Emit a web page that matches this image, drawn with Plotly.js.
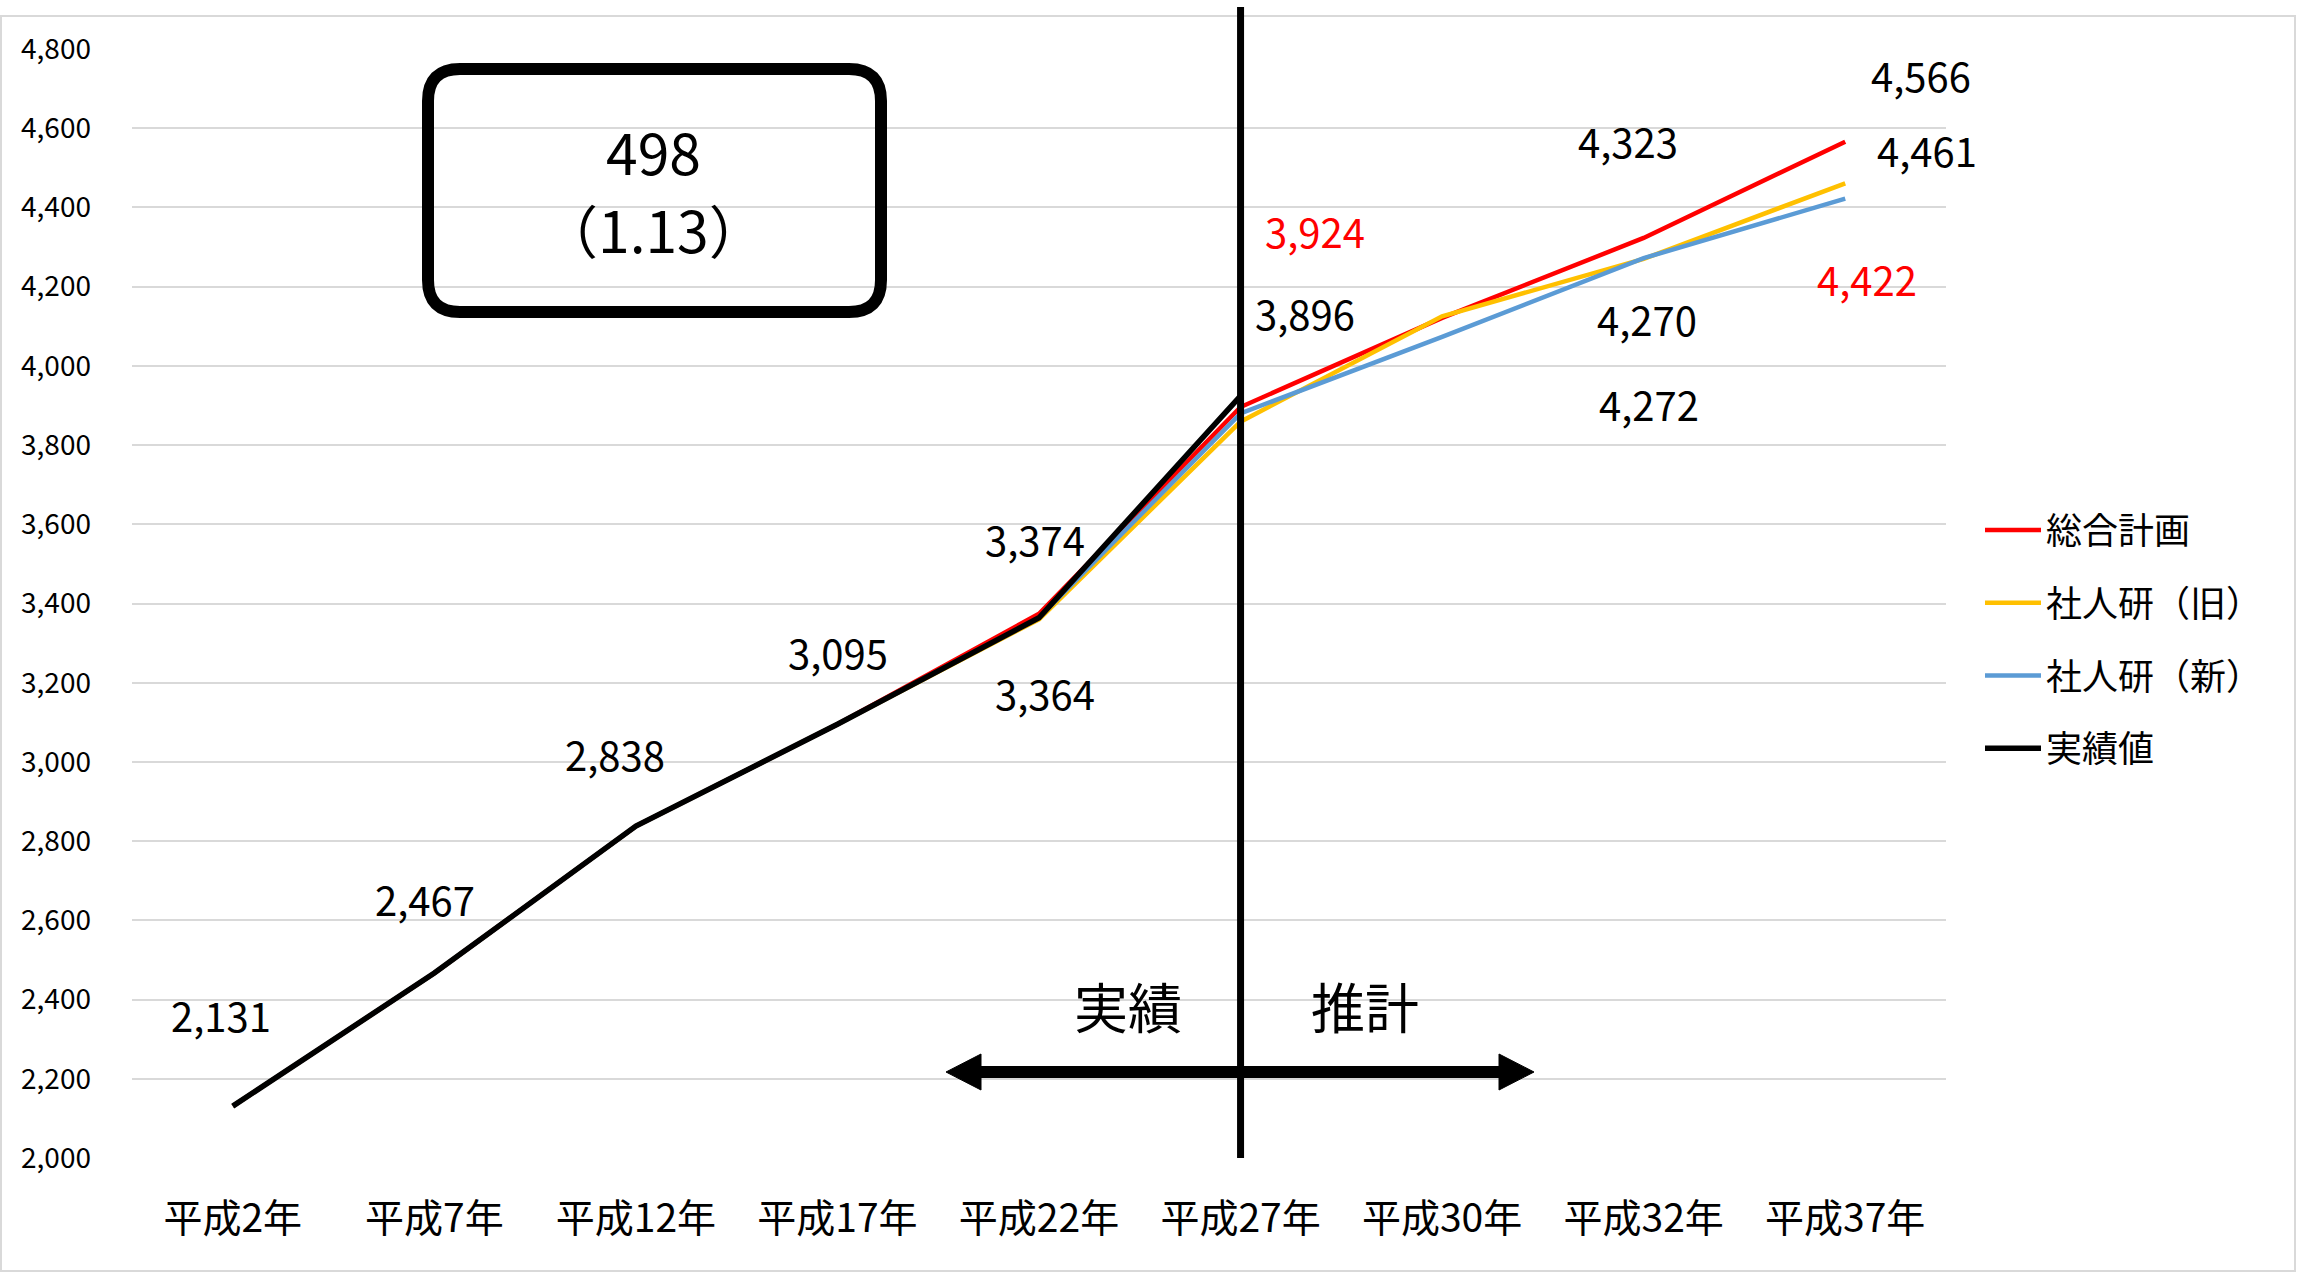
<!DOCTYPE html>
<html>
<head>
<meta charset="utf-8">
<script src="https://cdn.plot.ly/plotly-3.0.1.min.js"></script>
<style>html,body{margin:0;padding:0;background:#fff;}#chart{width:2308px;height:1273px;}</style>
</head>
<body>
<div id="chart"></div>
<script>
// ---- data ----
const categories = ['平成2年','平成7年','平成12年','平成17年','平成22年','平成27年','平成30年','平成32年','平成37年'];
const seriesNames = ['総合計画','社人研（旧）','社人研（新）','実績値'];
const plan      = [2131, 2467, 2838, 3095, 3374, 3896, 4121, 4323, 4566];   // 総合計画
const ipssOld   = [2131, 2467, 2838, 3095, 3360, 3859, 4125, 4270, 4461];   // 社人研（旧）
const ipssNew   = [2131, 2467, 2838, 3095, 3364, 3880, 4073, 4272, 4422];   // 社人研（新）
const actual    = [2131, 2467, 2838, 3095, 3364, 3924];                     // 実績値
const yTicks    = [2000,2200,2400,2600,2800,3000,3200,3400,3600,3800,4000,4200,4400,4600,4800];
const boxValue  = '498';
const boxRatio  = '（1.13）';
const leftLabel = '実績';
const rightLabel= '推計';

// ---- geometry helpers (pixel -> paper) ----
const L = 132, R = 1946, T = 49, B = 1158;
const px = x => (x - L) / (R - L);
const py = y => (B - y) / (B - T);
const fmt = v => v.toLocaleString('en-US');
const FONT = '"Noto Sans CJK JP", "Noto Sans", sans-serif';

const colors = ['#FF0000', '#FFC000', '#5B9BD5', '#000000'];
const seriesData = [plan, ipssOld, ipssNew, actual];

const traces = seriesData.map((vals, i) => ({
  type: 'scatter', mode: 'lines',
  x: categories.slice(0, vals.length), y: vals,
  name: seriesNames[i], legendgroup: 'g' + i,
  line: {color: colors[i], width: i === 3 ? 5.5 : 4.5},
  hoverinfo: 'x+y+name'
}));

// data labels: [value, pixelX, pixelY, color]
const labelSpecs = [
  [actual[0], 221, 1015, '#000'],
  [actual[1], 425, 899, '#000'],
  [actual[2], 615, 754, '#000'],
  [actual[3], 838, 652, '#000'],
  [plan[4], 1035, 539, '#000'],
  [actual[4], 1045, 693, '#000'],
  [actual[5], 1315, 231, '#FF0000'],
  [plan[5], 1305, 313, '#000'],
  [plan[7], 1628, 141, '#000'],
  [ipssOld[7], 1647, 319, '#000'],
  [ipssNew[7], 1649, 404, '#000'],
  [plan[8], 1921, 75, '#000'],
  [ipssOld[8], 1927, 150, '#000'],
  [ipssNew[8], 1867, 279, '#FF0000']
];
const annotations = labelSpecs.map(s => ({
  xref: 'paper', yref: 'paper', x: px(s[1]), y: py(s[2]),
  text: fmt(s[0]), showarrow: false, xanchor: 'center', yanchor: 'middle',
  font: {family: FONT, size: 40, color: s[3]}
}));
annotations.push(
  {xref:'paper', yref:'paper', x: px(653), y: py(150), text: boxValue, showarrow:false,
   xanchor:'center', yanchor:'middle', font:{family:FONT, size:57, color:'#000'}},
  {xref:'paper', yref:'paper', x: px(653), y: py(228), text: boxRatio, showarrow:false,
   xanchor:'center', yanchor:'middle', font:{family:FONT, size:57, color:'#000'}},
  {xref:'paper', yref:'paper', x: px(1128), y: py(1005), text: leftLabel, showarrow:false,
   xanchor:'center', yanchor:'middle', font:{family:FONT, size:54, color:'#000'}},
  {xref:'paper', yref:'paper', x: px(1365), y: py(1005), text: rightLabel, showarrow:false,
   xanchor:'center', yanchor:'middle', font:{family:FONT, size:54, color:'#000'}}
);

// rounded box path
const P = (x, y) => px(x) + ',' + py(y);
function roundRect(x0, y0, x1, y1, r) {
  return 'M' + P(x0 + r, y0) + ' L' + P(x1 - r, y0) + ' Q' + P(x1, y0) + ' ' + P(x1, y0 + r) +
    ' L' + P(x1, y1 - r) + ' Q' + P(x1, y1) + ' ' + P(x1 - r, y1) +
    ' L' + P(x0 + r, y1) + ' Q' + P(x0, y1) + ' ' + P(x0, y1 - r) +
    ' L' + P(x0, y0 + r) + ' Q' + P(x0, y0) + ' ' + P(x0 + r, y0) + ' Z';
}

const shapes = [
  // outer chart border
  {type:'rect', xref:'paper', yref:'paper', x0: px(1), x1: px(2295), y0: py(1271), y1: py(16),
   line:{color:'#D9D9D9', width:2}, fillcolor:'rgba(0,0,0,0)', layer:'below'},
  // divider line at 平成27年
  {type:'line', xref:'x', yref:'paper', x0: categories[5], x1: categories[5], y0: 0, y1: py(7),
   line:{color:'#000', width:7}, layer:'above'},
  // rounded box
  {type:'path', xref:'paper', yref:'paper', path: roundRect(428, 69, 881, 312, 32),
   line:{color:'#000', width:12}, fillcolor:'rgba(255,255,255,0)', layer:'above'},
  // arrow shaft
  {type:'line', xref:'paper', yref:'paper', x0: px(975), x1: px(1505), y0: py(1072), y1: py(1072),
   line:{color:'#000', width:12}, layer:'above'},
  // arrow heads
  {type:'path', xref:'paper', yref:'paper', path:'M' + P(946,1072) + ' L' + P(981,1054) + ' L' + P(981,1090) + ' Z',
   line:{color:'#000', width:1}, fillcolor:'#000', layer:'above'},
  {type:'path', xref:'paper', yref:'paper', path:'M' + P(1534,1072) + ' L' + P(1499,1054) + ' L' + P(1499,1090) + ' Z',
   line:{color:'#000', width:1}, fillcolor:'#000', layer:'above'}
];

const layout = {
  width: 2308, height: 1273,
  margin: {l: L, r: 2308 - R, t: T, b: 1273 - B, pad: 0},
  paper_bgcolor: '#fff', plot_bgcolor: '#fff',
  font: {family: FONT, color: '#000'},
  showlegend: true,
  legend: {
    x: px(1980), y: py(500), xanchor: 'left', yanchor: 'top',
    font: {family: FONT, size: 36, color: '#000'},
    traceorder: 'grouped', tracegroupgap: 23, itemwidth: 56,
    bgcolor: 'rgba(0,0,0,0)', borderwidth: 0
  },
  xaxis: {
    type: 'category', range: [-0.5, 8.5], showgrid: false, zeroline: false,
    showline: false, ticks: '', tickfont: {family: FONT, size: 39, color: '#000'},
    ticklabelstandoff: 34, fixedrange: true
  },
  yaxis: {
    range: [2000, 4800], tickvals: yTicks, ticktext: yTicks.map(fmt),
    showgrid: true, gridcolor: '#D9D9D9', gridwidth: 2, zeroline: false, showline: false,
    ticks: '', tickfont: {family: FONT, size: 28, color: '#000'},
    ticklabelstandoff: 40, fixedrange: true
  },
  annotations: annotations,
  shapes: shapes
};

Plotly.newPlot('chart', traces, layout, {displayModeBar: false, staticPlot: true});
</script>
</body>
</html>
